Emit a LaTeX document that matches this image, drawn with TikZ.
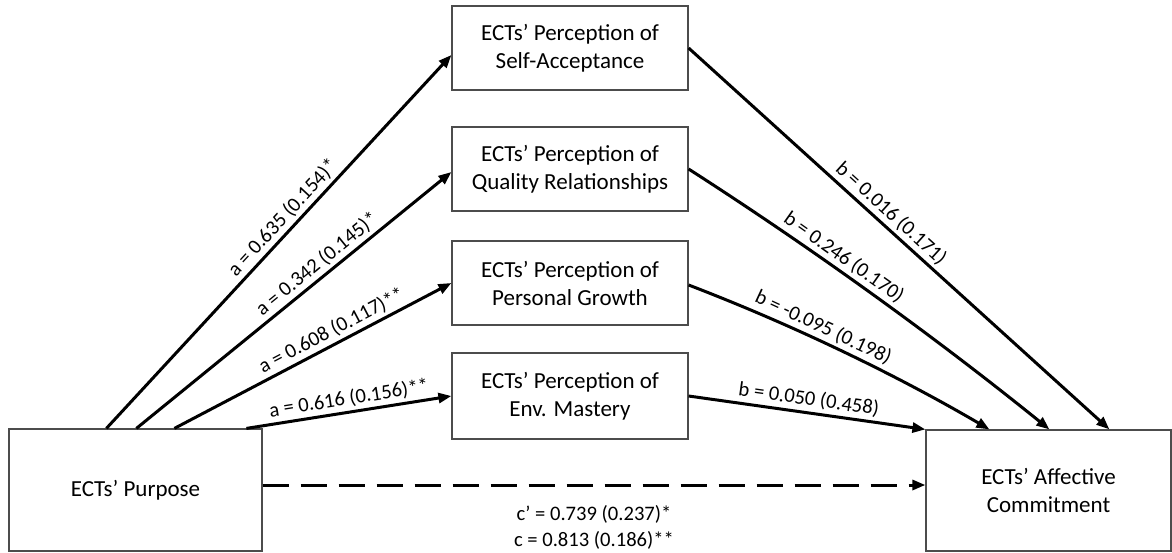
\documentclass[tikz,border=0pt]{standalone}
\usepackage{fontspec}
\setmainfont{Carlito}
\usetikzlibrary{arrows.meta,calc}
\begin{document}
\begin{tikzpicture}[x=0.5pt,y=-0.5pt,
  box/.style={draw=black!70, line width=0.6pt, align=center, font=\fontsize{11.5}{14}\selectfont, inner sep=0pt},
  midbox/.style={box, minimum width=118pt, minimum height=42pt},
  arr/.style={line width=1.5pt, -{Triangle[length=6.5pt,width=5pt]}},
  lab/.style={font=\fontsize{10.3}{12}\selectfont, sloped, above, inner sep=1.5pt}
]
\useasboundingbox (0,0) rectangle (1172,552);
\node[box, minimum width=126.5pt, minimum height=61pt] (X) at (135.5,490) {ECTs’ Purpose};
\node[box, minimum width=122.5pt, minimum height=60.5pt] (Y) at (1048.5,490.5) {ECTs’ Affective\\Commitment};
\node[midbox] (M1) at (570,48) {ECTs’ Perception of\\Self-Acceptance};
\node[midbox] (M2) at (570,169) {ECTs’ Perception of\\Quality Relationships};
\node[midbox] (M3) at (570,283) {ECTs’ Perception of\\Personal Growth};
\node[midbox, minimum height=43pt] (M4) at (570,396) {ECTs’ Perception of\\Env. Mastery};

\coordinate (s2) at (M2.east);
\coordinate (e2) at ([xshift=62pt]Y.north west);
\coordinate (s3) at ([yshift=-1pt]M3.east);
\coordinate (e3) at ([xshift=32pt]Y.north west);

\draw[arr] ([xshift=49pt]X.north west) -- node[lab, pos=0.54] {a = 0.635 (0.154)*} ([yshift=-3.5pt]M1.west);
\draw[arr] ([xshift=64pt]X.north west) -- node[lab, pos=0.6] {a = 0.342 (0.145)*} ([yshift=-1.5pt]M2.west);
\draw[arr] ([xshift=83pt]X.north west) -- node[lab, pos=0.59] {a = 0.608 (0.117)**} (M3.west);
\draw[arr] ([xshift=119pt]X.north west) -- node[lab, pos=0.51] {a = 0.616 (0.156)**} (M4.west);

\draw[arr] (M1.east) -- node[lab, pos=0.46] {b = 0.016 (0.171)} ([xshift=92pt]Y.north west);
\draw[arr] (s2) .. controls ($(s2)!0.33!(e2)+(4.7,-6.5)$) and ($(s2)!0.67!(e2)+(4.7,-6.5)$) .. node[lab, pos=0.4] {b = 0.246 (0.170)} (e2);
\draw[arr] (s3) .. controls ($(s3)!0.33!(e3)+(3.9,-8.1)$) and ($(s3)!0.67!(e3)+(3.9,-8.1)$) .. node[lab, pos=0.42] {b = -0.095 (0.198)} (e3);
\draw[arr] (M4.east) -- node[lab, pos=0.5] {b = 0.050 (0.458)} (Y.north west);

\draw[arr, dash pattern=on 13pt off 6pt] ([yshift=2.5pt]X.east) -- node[midway, yshift=-21pt, align=center, font=\fontsize{10.3}{13}\selectfont] {c’ = 0.739 (0.237)*\\c = 0.813 (0.186)**} ([yshift=2.75pt]Y.west);
\end{tikzpicture}
\end{document}
